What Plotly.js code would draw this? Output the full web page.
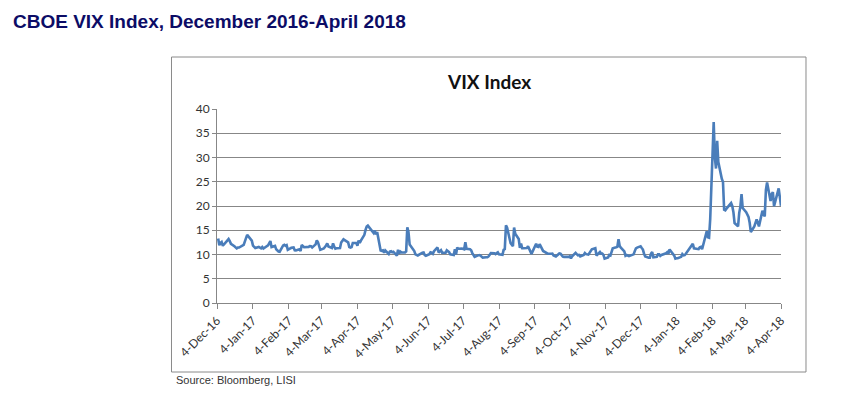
<!DOCTYPE html>
<html>
<head>
<meta charset="utf-8">
<script src="https://cdn.plot.ly/plotly-3.0.1.min.js"></script>
<style>
  html, body { margin: 0; padding: 0; background: #ffffff; }
  #chart { width: 849px; height: 399px; }
</style>
</head>
<body>
<div id="chart"></div>
<script>
// Trading dates (one line per month)
const tradeDates = [
  '2016-12-05','2016-12-06','2016-12-07','2016-12-08','2016-12-09','2016-12-12','2016-12-13','2016-12-14','2016-12-15','2016-12-16','2016-12-19','2016-12-20','2016-12-21','2016-12-22','2016-12-23','2016-12-27','2016-12-28','2016-12-29','2016-12-30',
  '2017-01-03','2017-01-04','2017-01-05','2017-01-06','2017-01-09','2017-01-10','2017-01-11','2017-01-12','2017-01-13','2017-01-17','2017-01-18','2017-01-19','2017-01-20','2017-01-23','2017-01-24','2017-01-25','2017-01-26','2017-01-27','2017-01-30','2017-01-31',
  '2017-02-01','2017-02-02','2017-02-03','2017-02-06','2017-02-07','2017-02-08','2017-02-09','2017-02-10','2017-02-13','2017-02-14','2017-02-15','2017-02-16','2017-02-17','2017-02-21','2017-02-22','2017-02-23','2017-02-24','2017-02-27','2017-02-28',
  '2017-03-01','2017-03-02','2017-03-03','2017-03-06','2017-03-07','2017-03-08','2017-03-09','2017-03-10','2017-03-13','2017-03-14','2017-03-15','2017-03-16','2017-03-17','2017-03-20','2017-03-21','2017-03-22','2017-03-23','2017-03-24','2017-03-27','2017-03-28','2017-03-29','2017-03-30','2017-03-31',
  '2017-04-03','2017-04-04','2017-04-05','2017-04-06','2017-04-07','2017-04-10','2017-04-11','2017-04-12','2017-04-13','2017-04-17','2017-04-18','2017-04-19','2017-04-20','2017-04-21','2017-04-24','2017-04-25','2017-04-26','2017-04-27','2017-04-28',
  '2017-05-01','2017-05-02','2017-05-03','2017-05-04','2017-05-05','2017-05-08','2017-05-09','2017-05-10','2017-05-11','2017-05-12','2017-05-15','2017-05-16','2017-05-17','2017-05-18','2017-05-19','2017-05-22','2017-05-23','2017-05-24','2017-05-25','2017-05-26','2017-05-30','2017-05-31',
  '2017-06-01','2017-06-02','2017-06-05','2017-06-06','2017-06-07','2017-06-08','2017-06-09','2017-06-12','2017-06-13','2017-06-14','2017-06-15','2017-06-16','2017-06-19','2017-06-20','2017-06-21','2017-06-22','2017-06-23','2017-06-26','2017-06-27','2017-06-28','2017-06-29','2017-06-30',
  '2017-07-03','2017-07-05','2017-07-06','2017-07-07','2017-07-10','2017-07-11','2017-07-12','2017-07-13','2017-07-14','2017-07-17','2017-07-18','2017-07-19','2017-07-20','2017-07-21','2017-07-24','2017-07-25','2017-07-26','2017-07-27','2017-07-28','2017-07-31',
  '2017-08-01','2017-08-02','2017-08-03','2017-08-04','2017-08-07','2017-08-08','2017-08-09','2017-08-10','2017-08-11','2017-08-14','2017-08-15','2017-08-16','2017-08-17','2017-08-18','2017-08-21','2017-08-22','2017-08-23','2017-08-24','2017-08-25','2017-08-28','2017-08-29','2017-08-30','2017-08-31',
  '2017-09-01','2017-09-05','2017-09-06','2017-09-07','2017-09-08','2017-09-11','2017-09-12','2017-09-13','2017-09-14','2017-09-15','2017-09-18','2017-09-19','2017-09-20','2017-09-21','2017-09-22','2017-09-25','2017-09-26','2017-09-27','2017-09-28','2017-09-29',
  '2017-10-02','2017-10-03','2017-10-04','2017-10-05','2017-10-06','2017-10-09','2017-10-10','2017-10-11','2017-10-12','2017-10-13','2017-10-16','2017-10-17','2017-10-18','2017-10-19','2017-10-20','2017-10-23','2017-10-24','2017-10-25','2017-10-26','2017-10-27','2017-10-30','2017-10-31',
  '2017-11-01','2017-11-02','2017-11-03','2017-11-06','2017-11-07','2017-11-08','2017-11-09','2017-11-10','2017-11-13','2017-11-14','2017-11-15','2017-11-16','2017-11-17','2017-11-20','2017-11-21','2017-11-22','2017-11-24','2017-11-27','2017-11-28','2017-11-29','2017-11-30',
  '2017-12-01','2017-12-04','2017-12-05','2017-12-06','2017-12-07','2017-12-08','2017-12-11','2017-12-12','2017-12-13','2017-12-14','2017-12-15','2017-12-18','2017-12-19','2017-12-20','2017-12-21','2017-12-22','2017-12-26','2017-12-27','2017-12-28','2017-12-29',
  '2018-01-02','2018-01-03','2018-01-04','2018-01-05','2018-01-08','2018-01-09','2018-01-10','2018-01-11','2018-01-12','2018-01-16','2018-01-17','2018-01-18','2018-01-19','2018-01-22','2018-01-23','2018-01-24','2018-01-25','2018-01-26','2018-01-29','2018-01-30','2018-01-31',
  '2018-02-01','2018-02-02','2018-02-05','2018-02-06','2018-02-07','2018-02-08','2018-02-09','2018-02-12','2018-02-13','2018-02-14','2018-02-15','2018-02-16','2018-02-20','2018-02-21','2018-02-22','2018-02-23','2018-02-26','2018-02-27','2018-02-28',
  '2018-03-01','2018-03-02','2018-03-05','2018-03-06','2018-03-07','2018-03-08','2018-03-09','2018-03-12','2018-03-13','2018-03-14','2018-03-15','2018-03-16','2018-03-19','2018-03-20','2018-03-21','2018-03-22','2018-03-23','2018-03-26','2018-03-27','2018-03-28','2018-03-29',
  '2018-04-02','2018-04-03','2018-04-04'
];

// VIX closing values (one line per month, same order as tradeDates)
const vixClose = [
  13.3, 11.9, 12.4, 12.6, 11.8, 12.64, 12.72, 13.19, 12.79, 12.20, 11.71, 11.45, 11.27, 11.43, 11.44, 11.99, 12.95, 13.37, 14.04,
  12.85, 11.85, 11.67, 11.32, 11.56, 11.49, 11.26, 11.54, 11.23, 11.87, 12.48, 12.78, 11.54, 11.77, 11.07, 10.81, 10.63, 10.58, 11.88, 11.99,
  11.81, 11.93, 10.97, 11.37, 11.45, 11.45, 10.88, 10.85, 11.07, 10.74, 11.97, 11.76, 11.49, 11.57, 11.74, 11.71, 11.47, 12.09, 12.92,
  12.54, 11.81, 10.96, 11.24, 11.45, 11.86, 12.30, 11.66, 11.35, 12.30, 11.63, 11.21, 11.28, 11.34, 12.47, 12.81, 13.12, 12.96, 12.50, 11.53, 11.42, 11.54, 12.37,
  12.38, 11.79, 12.89, 12.39, 12.87, 14.05, 15.07, 15.77, 15.96, 14.66, 14.42, 14.93, 14.15, 14.63, 10.84, 10.76, 10.85, 10.36, 10.82,
  10.11, 10.59, 10.68, 10.46, 10.57, 9.77, 10.96, 10.21, 10.60, 10.40, 10.42, 10.65, 15.59, 14.66, 12.04, 10.93, 10.72, 10.02, 9.99, 9.81, 10.38, 10.41,
  9.89, 9.75, 10.07, 10.45, 10.39, 10.16, 10.70, 11.46, 10.42, 10.64, 10.90, 10.38, 10.37, 10.86, 10.75, 10.48, 10.02, 9.90, 11.06, 10.03, 11.44, 11.18,
  11.22, 11.07, 12.54, 11.19, 11.11, 10.89, 10.30, 9.90, 9.51, 9.82, 9.89, 9.79, 9.58, 9.36, 9.43, 9.43, 9.60, 10.11, 10.29, 10.26,
  10.09, 10.28, 10.44, 10.03, 9.93, 10.96, 11.11, 16.04, 15.51, 12.33, 12.04, 11.74, 15.55, 14.26, 13.19, 11.35, 12.25, 11.28, 11.28, 11.32, 11.70, 11.22, 10.59,
  10.13, 12.23, 11.63, 11.55, 12.12, 10.73, 10.58, 10.50, 10.44, 10.17, 10.15, 10.18, 9.78, 9.67, 9.59, 10.21, 10.17, 9.87, 9.55, 9.51,
  9.45, 9.51, 9.63, 9.19, 9.65, 10.33, 10.08, 9.85, 9.91, 9.61, 9.91, 10.31, 10.07, 10.05, 9.97, 11.07, 11.16, 11.23, 11.30, 9.80, 10.50, 10.18,
  10.20, 9.93, 9.14, 9.40, 9.89, 9.78, 10.50, 11.29, 11.50, 11.59, 13.13, 11.76, 11.43, 10.65, 9.73, 9.88, 9.67, 9.87, 10.03, 10.70, 11.28,
  11.43, 11.68, 11.33, 11.02, 10.16, 9.58, 9.34, 9.34, 10.18, 10.49, 9.42, 9.53, 10.03, 10.03, 9.72, 9.90, 10.25, 10.47, 10.18, 11.04,
  9.77, 9.15, 9.22, 9.22, 9.52, 10.08, 9.82, 9.88, 10.16, 11.66, 11.91, 12.22, 11.27, 11.03, 11.10, 11.47, 11.58, 11.08, 13.84, 14.79, 13.54,
  13.47, 17.31, 37.32, 29.98, 27.73, 33.46, 29.06, 25.61, 24.97, 19.26, 19.13, 19.46, 20.60, 20.02, 18.72, 16.49, 15.80, 18.59, 19.85,
  22.47, 19.59, 18.73, 18.36, 17.76, 16.54, 14.64, 15.78, 16.35, 17.23, 16.59, 15.80, 19.02, 18.20, 17.86, 23.34, 24.87, 21.03, 22.50, 22.87, 19.97,
  23.62, 21.10, 20.06
];

// X-axis tick positions and labels
const tickDates = ['2016-12-04','2017-01-04','2017-02-04','2017-03-04','2017-04-04','2017-05-04','2017-06-04','2017-07-04','2017-08-04','2017-09-04','2017-10-04','2017-11-04','2017-12-04','2018-01-04','2018-02-04','2018-03-04','2018-04-04'];
const tickLabels = ['4-Dec-16','4-Jan-17','4-Feb-17','4-Mar-17','4-Apr-17','4-May-17','4-Jun-17','4-Jul-17','4-Aug-17','4-Sep-17','4-Oct-17','4-Nov-17','4-Dec-17','4-Jan-18','4-Feb-18','4-Mar-18','4-Apr-18'];

const pageTitle = 'CBOE VIX Index, December 2016-April 2018';
const chartTitle = 'VIX Index';
const sourceNote = 'Source: Bloomberg, LISI';

const trace = {
  x: tradeDates,
  y: vixClose,
  type: 'scatter',
  mode: 'lines',
  line: { color: '#4a7dba', width: 2.6 },
  hoverinfo: 'x+y'
};

const gridGray = '#878787';

const layout = {
  width: 849,
  height: 399,
  paper_bgcolor: '#ffffff',
  plot_bgcolor: '#ffffff',
  margin: { l: 217, r: 68, t: 109, b: 96 },
  showlegend: false,
  title: {
    text: '<b>' + pageTitle + '</b>',
    font: { family: 'Arial, "Liberation Sans", sans-serif', size: 19, color: '#0c0c66' },
    x: 13 / 849, xanchor: 'left', xref: 'container',
    y: 1 - 21.5 / 399, yanchor: 'middle', yref: 'container'
  },
  xaxis: {
    type: 'date',
    range: ['2016-12-04', '2018-04-04'],
    tickmode: 'array',
    tickvals: tickDates,
    ticktext: tickLabels,
    tickangle: -45,
    showgrid: false,
    zeroline: false,
    showline: true,
    linecolor: gridGray,
    linewidth: 1,
    ticks: 'outside',
    ticklen: 5,
    tickcolor: gridGray,
    tickfont: { family: 'Lato, "Open Sans", sans-serif', size: 12, color: '#333333' },
    fixedrange: true
  },
  yaxis: {
    range: [0, 40],
    dtick: 5,
    tick0: 0,
    showgrid: true,
    gridcolor: gridGray,
    gridwidth: 1,
    zeroline: false,
    showline: true,
    linecolor: gridGray,
    linewidth: 1,
    ticks: 'outside',
    ticklen: 4,
    tickcolor: gridGray,
    tickfont: { family: 'Lato, "Open Sans", sans-serif', size: 12, color: '#333333' },
    fixedrange: true
  },
  shapes: [
    {
      type: 'rect', xref: 'paper', yref: 'paper',
      x0: -0.0807, x1: 1.0443, y0: -0.3557, y1: 1.268,
      line: { color: '#8a8a8a', width: 1 },
      fillcolor: 'rgba(0,0,0,0)',
      layer: 'below'
    }
  ],
  annotations: [
    {
      text: '<b>' + chartTitle + '</b>',
      xref: 'paper', yref: 'paper',
      x: 0.483, y: 1.144, xanchor: 'center', yanchor: 'middle',
      showarrow: false,
      font: { family: 'Lato, "Open Sans", sans-serif', size: 19, color: '#111111' }
    },
    {
      text: sourceNote,
      xref: 'paper', yref: 'paper',
      x: -0.0762, y: -0.397, xanchor: 'left', yanchor: 'middle',
      showarrow: false,
      font: { family: 'Arial, "Liberation Sans", sans-serif', size: 11, color: '#333333' }
    }
  ]
};

Plotly.newPlot('chart', [trace], layout, { displayModeBar: false, staticPlot: true });
</script>
</body>
</html>
